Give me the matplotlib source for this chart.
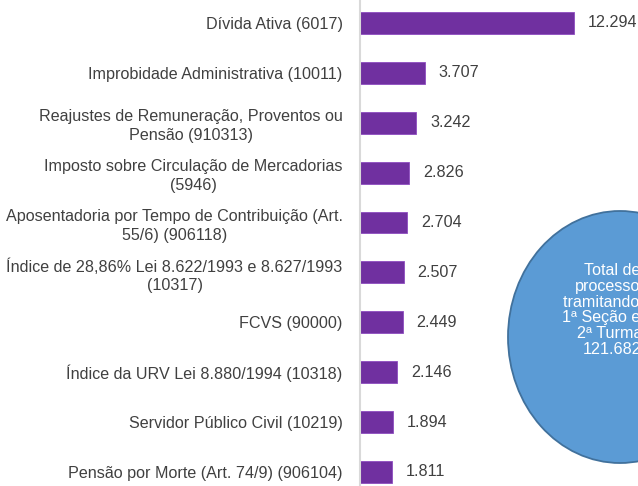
import matplotlib
matplotlib.use("Agg")
import matplotlib.pyplot as plt
from matplotlib.patches import Ellipse

categories = [
    "Dívida Ativa (6017)",
    "Improbidade Administrativa (10011)",
    "Reajustes de Remuneração, Proventos ou\nPensão (910313)",
    "Imposto sobre Circulação de Mercadorias\n(5946)",
    "Aposentadoria por Tempo de Contribuição (Art.\n55/6) (906118)",
    "Índice de 28,86% Lei 8.622/1993 e 8.627/1993\n(10317)",
    "FCVS (90000)",
    "Índice da URV Lei 8.880/1994 (10318)",
    "Servidor Público Civil (10219)",
    "Pensão por Morte (Art. 74/9) (906104)",
]
values = [12294, 3707, 3242, 2826, 2704, 2507, 2449, 2146, 1894, 1811]
value_labels = ["12.294", "3.707", "3.242", "2.826", "2.704", "2.507", "2.449", "2.146", "1.894", "1.811"]
bubble_text = "Total de\nprocessos\ntramitando na\n1ª Seção e da\n2ª Turma:\n121.682"

fam = "Liberation Sans"
fs = 11.6

W, H = 638, 486
fig = plt.figure(figsize=(W / 100, H / 100), dpi=100)
ax = fig.add_axes([360 / W, 0, 278 / W, 1])

n = len(categories)
ypos = list(range(n - 1, -1, -1))
bars = ax.barh(ypos, values, height=0.44, color="#7030A0", edgecolor="#8E4CC0", linewidth=0.6)

ax.set_xlim(0, 15960)
ax.set_ylim(-0.2806, 9.459)
ax.set_yticks(ypos, categories)
ax.tick_params(axis="y", length=0, pad=12.5, labelsize=fs, labelcolor="#404040")
for lab in ax.get_yticklabels():
    lab.set_multialignment("center")
    lab.set_family(fam)
    lab.set_linespacing(1.3)
ax.set_xticks([])
for s in ["top", "right", "bottom"]:
    ax.spines[s].set_visible(False)
ax.spines["left"].set_color("#D9D9D9")
ax.spines["left"].set_linewidth(1.5)

ax.bar_label(bars, labels=value_labels, padding=10, fontsize=fs, color="#404040", family=fam)

ell = Ellipse((620 / W, 1 - 337 / H), 224 / W, 252 / H, transform=fig.transFigure,
              facecolor="#5B9BD5", edgecolor="#41719C", linewidth=1.3, zorder=5)
fig.add_artist(ell)
fig.text(612 / W, 1 - 310 / H, bubble_text, ha="center", va="center", multialignment="center",
         fontsize=fs, color="white", family=fam, linespacing=1.08, zorder=6)

fig.savefig("out.png", dpi=100)
